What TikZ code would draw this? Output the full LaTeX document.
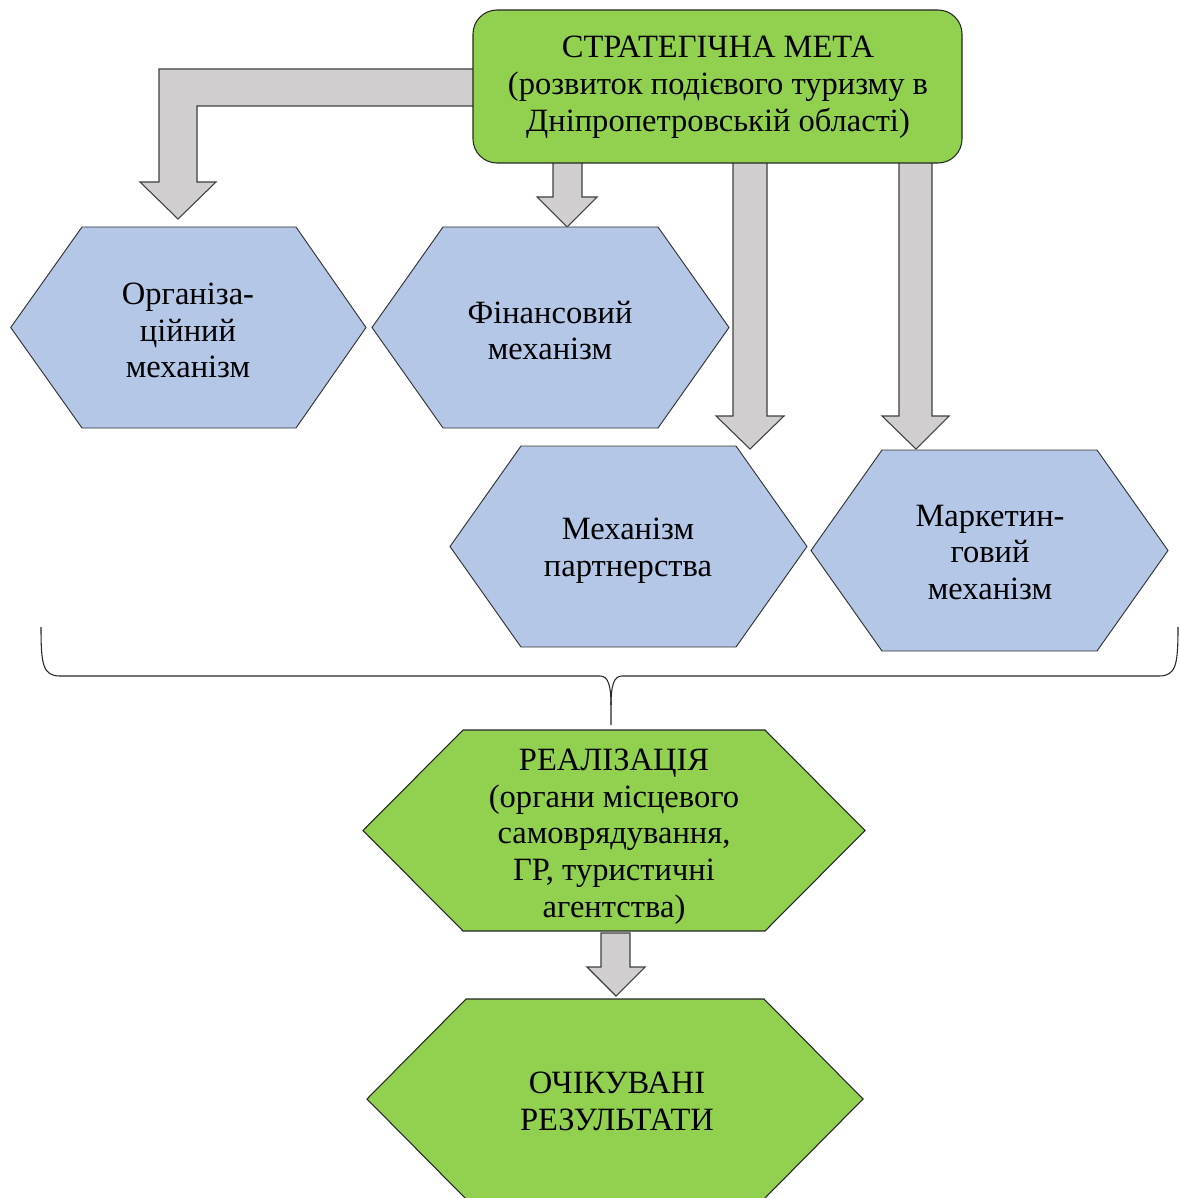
\documentclass[tikz,border=0pt]{standalone}
\usepackage{fontspec}
\setmainfont{Liberation Serif}
\definecolor{goalgreen}{HTML}{92D050}
\definecolor{mechblue}{HTML}{B4C7E7}
\definecolor{arrowgray}{HTML}{D0CECE}
\tikzset{
  blockarrow/.style={fill=arrowgray, draw=black!75, line width=0.8pt, line join=miter},
  bluehex/.style={fill=mechblue, draw=black!80, line width=0.7pt},
  greenhex/.style={fill=goalgreen, draw=black!85, line width=0.8pt},
  lbl/.style={align=center, inner sep=0pt, font=\fontsize{24.4}{27.6}\selectfont},
  bracepath/.style={draw=black!85, line width=0.8pt}
}
\begin{document}
\begin{tikzpicture}[x=0.75pt, y=-0.75pt]
\useasboundingbox (0,0) rectangle (1180,1198);
% block arrows
\path[blockarrow] (480,69) -- (159,69) -- (159,182) -- (140,182) -- (178,219) -- (216,182) -- (197,182) -- (197,106) -- (480,106) -- cycle;
\path[blockarrow] (553,160) -- (553,197) -- (537,197) -- (567,227) -- (597,197) -- (582,197) -- (582,160) -- cycle;
\path[blockarrow] (733,160) -- (733,416) -- (716,416) -- (750,449) -- (784,416) -- (767,416) -- (767,160) -- cycle;
\path[blockarrow] (899,160) -- (899,416) -- (882,416) -- (916,449) -- (949,416) -- (932,416) -- (932,160) -- cycle;
\path[blockarrow] (601,933) -- (601,967) -- (587,967) -- (616,996) -- (645,967) -- (630,967) -- (630,933) -- cycle;
% top goal box
\path[fill=goalgreen, draw=black!85, line width=0.8pt, rounded corners=18pt] (473,10) rectangle (962,163);
\node[lbl] (goal) at (718,87) {СТРАТЕГІЧНА МЕТА\\(розвиток подієвого туризму в\\Дніпропетровській області)};
% mechanism hexagons
\path[bluehex] (10.7,327.5) -- (82,227) -- (296,227) -- (366,327.5) -- (296,428) -- (82,428) -- cycle;
\node[lbl] (org) at (188,330.5) {Організа-\\ційний\\механізм};
\path[bluehex] (372,327.5) -- (443,227) -- (658,227) -- (729,327.5) -- (658,428) -- (443,428) -- cycle;
\node[lbl] (fin) at (550,330.5) {Фінансовий\\механізм};
\path[bluehex] (450,546.5) -- (521,446) -- (736,446) -- (807,546.5) -- (736,647) -- (521,647) -- cycle;
\node[lbl] (part) at (628,550.5) {Механізм\\партнерства};
\path[bluehex] (811,550.5) -- (882,450) -- (1097,450) -- (1168,550.5) -- (1097,651) -- (882,651) -- cycle;
\node[lbl] (mark) at (990,552.5) {Маркетин-\\говий\\механізм};
% brace
\path[bracepath] (41,627) .. controls (41,665) and (43,676) .. (60,676) -- (600,676) .. controls (608,676) and (611,685) .. (611,705) -- (611,725);
\path[bracepath] (1178,627) .. controls (1178,665) and (1176,676) .. (1159,676) -- (622,676) .. controls (614,676) and (611,685) .. (611,705);
% realization
\path[greenhex] (363,830.5) -- (463,730) -- (765,730) -- (865,830.5) -- (765,931) -- (463,931) -- cycle;
\node[lbl] (real) at (614,836.5) {РЕАЛІЗАЦІЯ\\(органи місцевого\\самоврядування,\\ГР, туристичні\\агентства)};
% results
\path[greenhex] (367,1099) -- (466,999) -- (764,999) -- (863,1099) -- (764,1199) -- (466,1199) -- cycle;
\node[lbl] (res) at (617,1101) {ОЧІКУВАНІ\\РЕЗУЛЬТАТИ};
\end{tikzpicture}
\end{document}
